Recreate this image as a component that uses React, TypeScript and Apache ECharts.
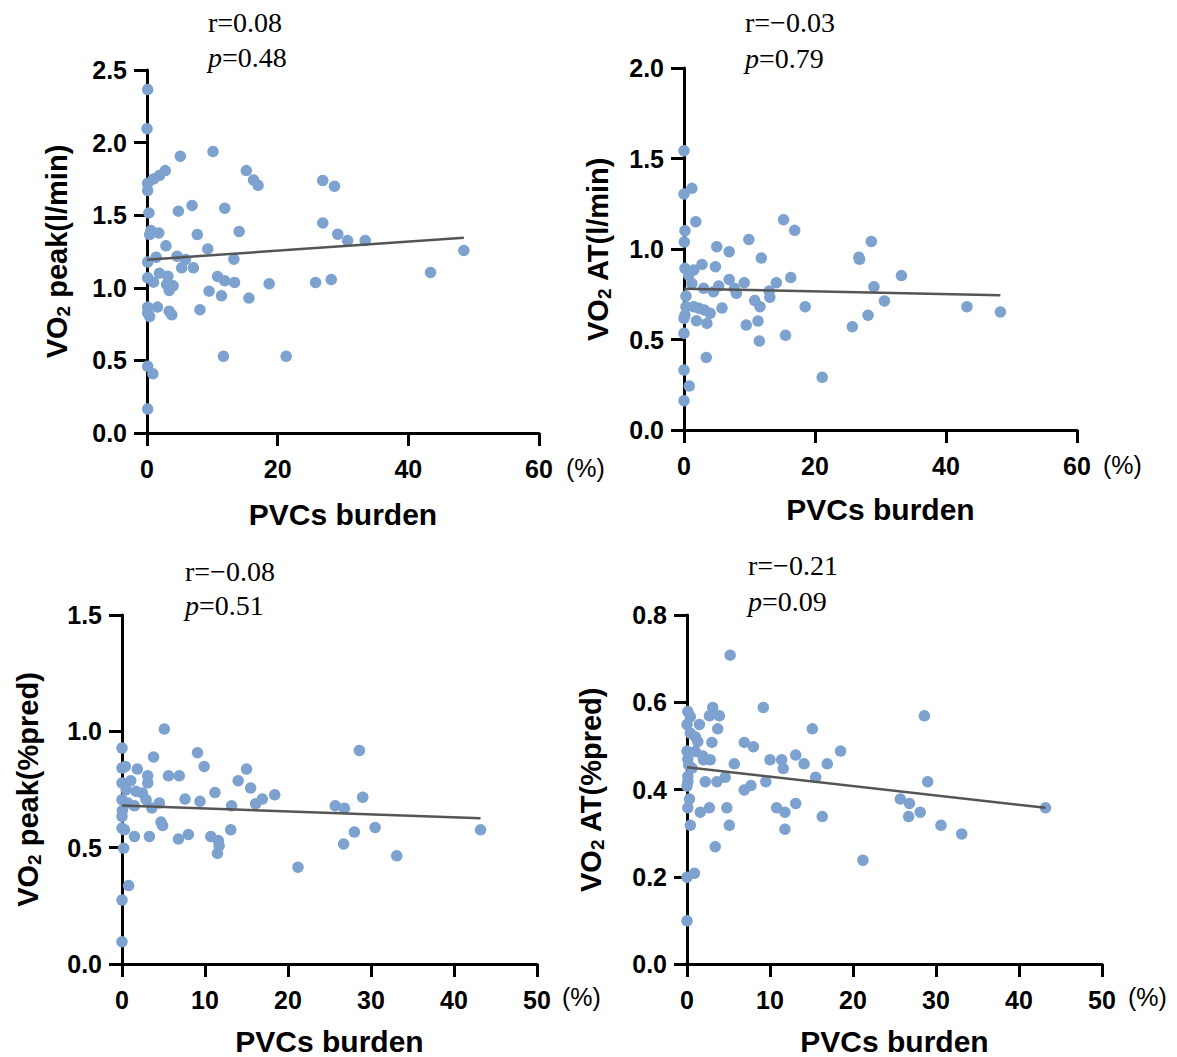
import React, { useEffect, useRef } from "react";
import * as echarts from "echarts";

// ---------- data ----------
// Panel 1: VO2 peak (l/min)
const peakLX = [0.1, 0, 5.1, 10.1, 2.8, 1.9, 1.0, 0.1, 0.1, 15.2, 16.3, 17.0, 26.9, 28.7, 4.8, 6.9, 11.9, 0.3, 26.9, 29.2, 30.7, 33.4, 48.5, 43.4, 0.6, 1.8, 0.4, 7.7, 14.1, 2.9, 9.3, 4.6, 5.9, 1.4, 0.1, 5.3, 7.1, 13.3, 1.9, 3.2, 0.1, 1.0, 3.0, 4.0, 3.4, 10.8, 11.9, 13.4, 18.7, 25.8, 28.2, 9.5, 11.4, 15.6, 0.1, 1.6, 0.1, 0.4, 3.4, 3.8, 8.1, 11.7, 21.3, 0.1, 0.9, 0.1];
const peakLY = [2.365, 2.096, 1.906, 1.938, 1.807, 1.773, 1.75, 1.72, 1.67, 1.807, 1.743, 1.706, 1.739, 1.70, 1.528, 1.567, 1.548, 1.516, 1.447, 1.369, 1.326, 1.326, 1.257, 1.106, 1.394, 1.378, 1.367, 1.367, 1.388, 1.289, 1.268, 1.218, 1.195, 1.211, 1.177, 1.138, 1.138, 1.197, 1.101, 1.08, 1.069, 1.039, 1.023, 1.014, 0.982, 1.078, 1.048, 1.037, 1.028, 1.037, 1.057, 0.977, 0.945, 0.929, 0.867, 0.867, 0.828, 0.803, 0.839, 0.814, 0.849, 0.528, 0.528, 0.459, 0.408, 0.165];
const peakLFit = [[0, 1.194], [48.5, 1.344]];

// Panel 2: VO2 AT (l/min)
const atLX = [0, 0, 1.2, 1.8, 0.15, 0.05, 15.2, 16.9, 9.9, 5.0, 6.9, 11.8, 28.6, 26.7, 26.8, 33.2, 29.0, 30.6, 43.2, 48.3, 2.75, 4.8, 0.15, 1.5, 0.7, 16.3, 14.1, 6.9, 9.2, 5.3, 3.0, 4.5, 7.7, 8.0, 13.0, 13.1, 1.2, 0.3, 10.8, 11.6, 18.5, 5.8, 0.3, 1.5, 2.3, 3.1, 4.0, 0.15, 1.9, 3.5, 0, 9.5, 11.3, 28.1, 25.7, 0, 15.5, 11.5, 3.4, 0, 0.8, 21.1, 0];
const atLY = [1.543, 1.304, 1.335, 1.151, 1.101, 1.039, 1.162, 1.103, 1.053, 1.013, 0.985, 0.95, 1.042, 0.954, 0.943, 0.853, 0.792, 0.713, 0.681, 0.652, 0.915, 0.902, 0.893, 0.884, 0.856, 0.842, 0.814, 0.832, 0.814, 0.796, 0.783, 0.764, 0.783, 0.755, 0.768, 0.733, 0.81, 0.74, 0.715, 0.681, 0.681, 0.674, 0.681, 0.681, 0.672, 0.663, 0.645, 0.635, 0.604, 0.589, 0.617, 0.58, 0.602, 0.634, 0.571, 0.534, 0.523, 0.492, 0.401, 0.331, 0.243, 0.291, 0.162];
const atLFit = [[0, 0.781], [48.3, 0.744]];

// Panel 3: VO2 peak (%pred)
const peakPX = [5.1, 0, 28.6, 9.1, 3.8, 0, 0.4, 1.85, 9.9, 15.0, 5.6, 6.9, 3.1, 1.05, 0, 3.1, 14.0, 15.5, 11.2, 18.4, 29.0, 0.5, 1.7, 2.45, 0, 7.6, 9.4, 4.5, 2.9, 0.7, 1.5, 16.9, 16.1, 13.2, 25.7, 26.8, 3.6, 0.05, 0, 4.7, 4.9, 0, 0.3, 43.2, 30.5, 28.0, 13.1, 1.5, 3.3, 6.8, 8.0, 10.7, 11.6, 11.7, 11.5, 26.7, 33.1, 0.2, 21.2, 0.8, 0, 0];
const peakPY = [1.01, 0.928, 0.918, 0.908, 0.89, 0.842, 0.849, 0.838, 0.849, 0.838, 0.809, 0.809, 0.809, 0.788, 0.778, 0.778, 0.788, 0.756, 0.737, 0.727, 0.717, 0.749, 0.742, 0.735, 0.706, 0.709, 0.699, 0.692, 0.706, 0.692, 0.68, 0.709, 0.689, 0.68, 0.68, 0.669, 0.67, 0.66, 0.634, 0.61, 0.595, 0.584, 0.577, 0.577, 0.587, 0.567, 0.577, 0.548, 0.548, 0.537, 0.557, 0.548, 0.531, 0.508, 0.476, 0.516, 0.465, 0.498, 0.416, 0.337, 0.275, 0.096];
const peakPFit = [[0, 0.681], [43.2, 0.626]];

// Panel 4: VO2 AT (%pred)
const atPX = [5.2, 9.2, 28.6, 3.1, 2.7, 3.9, 0.1, 0.4, 0, 1.5, 3.7, 15.1, 0.4, 1.0, 1.3, 3.0, 6.9, 8.0, 18.5, 0, 1.0, 1.9, 2.8, 2.0, 0.1, 13.1, 10.0, 11.4, 14.1, 16.9, 5.7, 0.2, 11.6, 0.6, 15.5, 4.6, 0.1, 0.1, 2.2, 3.6, 9.5, 29.0, 7.7, 6.9, 0, 0.3, 25.7, 26.8, 43.2, 13.1, 0.1, 2.7, 4.8, 10.8, 1.6, 11.8, 28.1, 16.3, 26.7, 0.4, 5.1, 30.6, 11.8, 33.1, 3.4, 21.2, 0.9, 0, 0];
const atPY = [0.708, 0.588, 0.569, 0.588, 0.569, 0.569, 0.579, 0.567, 0.549, 0.549, 0.539, 0.539, 0.529, 0.521, 0.51, 0.508, 0.508, 0.498, 0.488, 0.488, 0.487, 0.477, 0.468, 0.468, 0.469, 0.479, 0.468, 0.468, 0.459, 0.459, 0.459, 0.456, 0.448, 0.449, 0.428, 0.428, 0.43, 0.418, 0.418, 0.418, 0.418, 0.418, 0.409, 0.399, 0.408, 0.378, 0.378, 0.368, 0.358, 0.368, 0.358, 0.358, 0.358, 0.358, 0.348, 0.348, 0.348, 0.338, 0.338, 0.318, 0.318, 0.318, 0.309, 0.298, 0.269, 0.238, 0.208, 0.199, 0.099];
const atPFit = [[0, 0.451], [43.2, 0.358]];

const yTitles = ["peak(l/min)", "AT(l/min)", "peak(%pred)", "AT(%pred)"];
const xTitle = "PVCs burden";
const rTexts = ["r=0.08", "r=\u22120.03", "r=\u22120.08", "r=\u22120.21"];
const pTexts = ["=0.48", "=0.79", "=0.51", "=0.09"];
const xMax = [60, 60, 50, 50];
const xInterval = [20, 20, 10, 10];
const yMax = [2.5, 2.0, 1.5, 0.8];
const yInterval = [0.5, 0.5, 0.5, 0.2];

const SANS = "'Liberation Sans', Arial, sans-serif";
const SERIF = "'Liberation Serif', 'Times New Roman', serif";
const DOT = "#7da2d0";

export default function App() {
  const ref = useRef<HTMLDivElement>(null);
  useEffect(() => {
    document.body.style.margin = "0";
    const chart = echarts.init(ref.current!, null, { renderer: "svg" });

    const grids = [
      { left: 147, top: 70, width: 392, height: 363 },
      { left: 684, top: 68, width: 393, height: 362 },
      { left: 122, top: 615, width: 415, height: 349 },
      { left: 687, top: 615, width: 415, height: 349 },
    ];
    const yGaps = [74, 70, 78, 80];
    const xGaps = [66, 64, 62, 62];
    const scatterData = [
      [peakLX, peakLY],
      [atLX, atLY],
      [peakPX, peakPY],
      [atPX, atPY],
    ];
    const fits = [peakLFit, atLFit, peakPFit, atPFit];

    const axisLine = { show: true, lineStyle: { color: "#000", width: 3 } };
    const axisTick = { show: true, length: 13, lineStyle: { color: "#000", width: 3 } };

    const xAxis = grids.map((_, i) => ({
      type: "value",
      gridIndex: i,
      min: 0,
      max: xMax[i],
      interval: xInterval[i],
      splitLine: { show: false },
      axisLine,
      axisTick,
      axisLabel: { color: "#000", fontFamily: SANS, fontWeight: "bold", fontSize: 25, margin: 23 },
      name: xTitle,
      nameLocation: "middle",
      nameGap: xGaps[i],
      nameTextStyle: { color: "#000", fontFamily: SANS, fontWeight: "bold", fontSize: 30 },
    }));

    const yAxis = grids.map((_, i) => ({
      type: "value",
      gridIndex: i,
      min: 0,
      max: yMax[i],
      interval: yInterval[i],
      splitLine: { show: false },
      axisLine,
      axisTick,
      axisLabel: {
        color: "#000",
        fontFamily: SANS,
        fontWeight: "bold",
        fontSize: 25,
        margin: 20,
        formatter: (v: number) => v.toFixed(1),
      },
      name: "{a|VO}{s|2}{a| " + yTitles[i] + "}",
      nameLocation: "middle",
      nameRotate: 90,
      nameGap: yGaps[i],
      nameTextStyle: {
        color: "#000",
        rich: {
          a: { fontFamily: SANS, fontWeight: "bold", fontSize: 29, lineHeight: 32, verticalAlign: "middle", color: "#000" },
          s: { fontFamily: SANS, fontWeight: "bold", fontSize: 19, lineHeight: 32, verticalAlign: "bottom", color: "#000" },
        },
      },
    }));

    const series: any[] = [];
    scatterData.forEach(([xs, ys], i) => {
      series.push({
        type: "scatter",
        xAxisIndex: i,
        yAxisIndex: i,
        symbolSize: 11.5,
        itemStyle: { color: DOT, opacity: 1 },
        data: xs.map((x, k) => [x, ys[k]]),
        z: 2,
      });
      series.push({
        type: "line",
        xAxisIndex: i,
        yAxisIndex: i,
        showSymbol: false,
        symbol: "none",
        lineStyle: { color: "#555", width: 2.5 },
        data: fits[i],
        z: 3,
      });
    });

    const annPos = [
      [208, 24, 59],
      [745, 24, 60],
      [185, 573, 607],
      [748, 567, 603],
    ];
    const pctPos = [
      [566, 469],
      [1103, 466],
      [562, 998],
      [1128, 998],
    ];
    const graphic: any[] = [];
    annPos.forEach(([x, y1, y2], i) => {
      graphic.push({
        type: "text",
        left: x,
        top: y1 - 16,
        style: { text: rTexts[i], fill: "#000", font: `28px ${SERIF}` },
      });
      graphic.push({
        type: "text",
        left: x,
        top: y2 - 16,
        style: {
          text: "{i|p}{n|" + pTexts[i] + "}",
          fill: "#000",
          rich: {
            i: { fontFamily: SERIF, fontStyle: "italic", fontSize: 28, fill: "#000" },
            n: { fontFamily: SERIF, fontSize: 28, fill: "#000" },
          },
        },
      });
    });
    pctPos.forEach(([x, y]) => {
      graphic.push({
        type: "text",
        left: x,
        top: y - 14,
        style: { text: "(%)", fill: "#000", font: `25px ${SANS}` },
      });
    });

    chart.setOption({
      animation: false,
      backgroundColor: "#fff",
      grid: grids.map((g) => ({ ...g, containLabel: false })),
      xAxis,
      yAxis,
      series,
      graphic,
    });
    return () => chart.dispose();
  }, []);
  return <div ref={ref} style={{ width: 1177, height: 1057 }} />;
}
